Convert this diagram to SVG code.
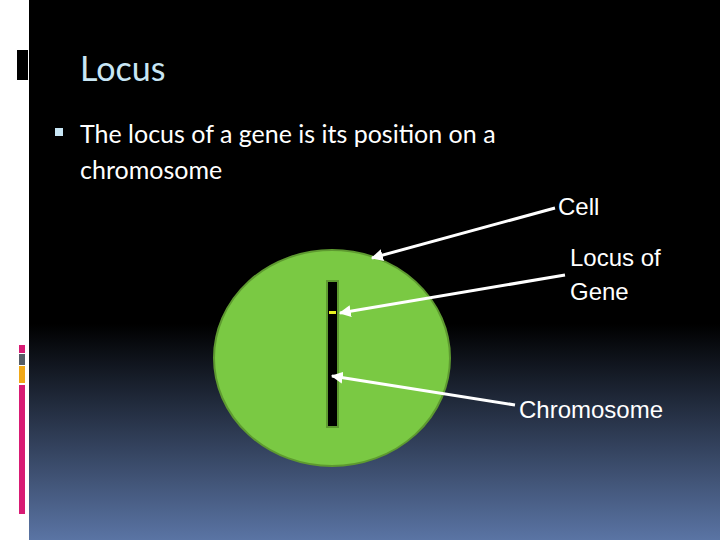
<svg xmlns="http://www.w3.org/2000/svg" width="720" height="540" viewBox="0 0 720 540">
<defs>
<linearGradient id="bg" x1="0" y1="0" x2="0" y2="1">
<stop offset="0" stop-color="#000"/><stop offset="0.6" stop-color="#000"/><stop offset="1" stop-color="#5a74a4"/>
</linearGradient>
<marker id="ah" viewBox="0 0 10 10" refX="9" refY="5" markerWidth="4" markerHeight="4" orient="auto"><path d="M0,0L10,5L0,10z" fill="#fff"/></marker>
<style>
.lbl{font-family:"Liberation Sans",Arial,sans-serif;font-size:24px;fill:#fff}
.ar{stroke:#fff;stroke-width:3;fill:none;marker-end:url(#ah)}
</style>
</defs>
<rect width="720" height="540" fill="#fff"/>
<rect x="29" width="691" height="540" fill="url(#bg)"/>
<rect x="17" y="50" width="11" height="30" fill="#000"/>
<rect x="19" y="345" width="6" height="8" fill="#d81b74"/>
<rect x="19" y="354" width="6" height="11" fill="#555d66"/>
<rect x="19" y="366" width="6" height="17" fill="#f0a818"/>
<rect x="19" y="385" width="6" height="129" fill="#d81b74"/>
<text x="80" y="81" font-family="Lato,'Open Sans',sans-serif" font-size="34" fill="#c8e6f5">Locus</text>
<rect x="55" y="128" width="8" height="8" fill="#c8e6f5"/>
<text font-family="Lato,'Open Sans',sans-serif" font-size="25" fill="#fff"><tspan x="80" y="143">The locus of a gene is its position on a</tspan><tspan x="80" y="179">chromosome</tspan></text>
<g id="cell"><ellipse cx="332" cy="358" rx="118" ry="108" fill="#7ac943" stroke="#5e9a30" stroke-width="2"/></g>
<g id="chromosome"><rect x="327" y="281" width="11" height="146" fill="#000" stroke="#5e9a30" stroke-width="2"/></g>
<g id="locus"><rect x="329" y="311" width="7" height="3" fill="#e6f020"/></g>
<g id="connectors">
<line class="ar" x1="555" y1="208" x2="372" y2="258"/>
<line class="ar" x1="565" y1="275" x2="340" y2="313"/>
<line class="ar" x1="515" y1="405" x2="332" y2="376"/>
</g>
<text class="lbl" x="558" y="215">Cell</text>
<text class="lbl" x="570" y="266">Locus of</text>
<text class="lbl" x="570" y="300">Gene</text>
<text class="lbl" x="519" y="418">Chromosome</text>
</svg>
